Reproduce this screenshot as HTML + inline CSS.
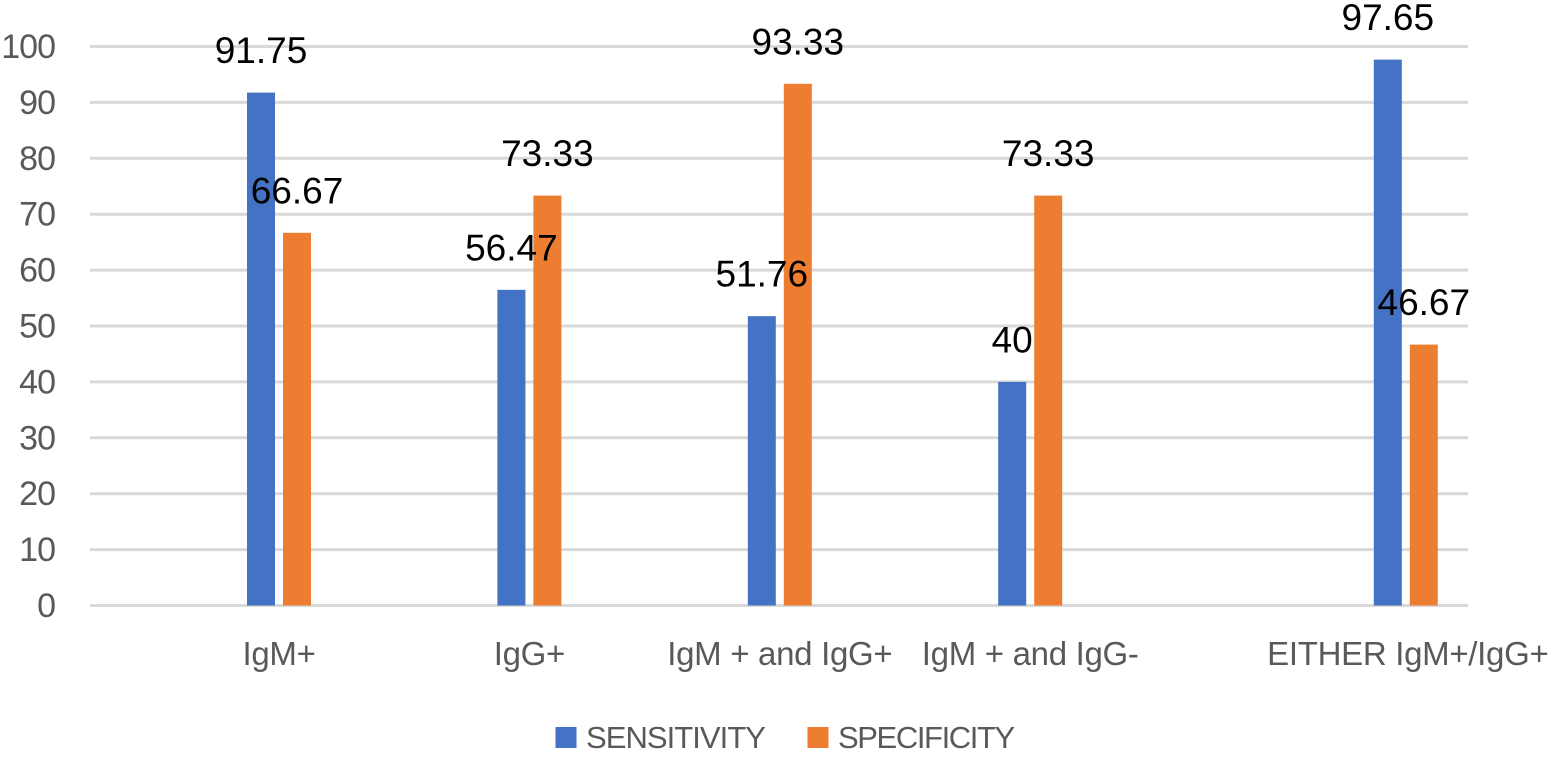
<!DOCTYPE html>
<html lang="en">
<head>
<meta charset="utf-8">
<title>Sensitivity and specificity chart</title>
<style>
html,body{margin:0;padding:0;background:#fff;width:1552px;height:760px;overflow:hidden}
svg{display:block;font-family:"Liberation Sans",sans-serif}
</style>
</head>
<body>
<svg id="chart" width="1552" height="760" viewBox="0 0 1552 760" xmlns="http://www.w3.org/2000/svg"></svg>
<script>
const categories = ['IgM+', 'IgG+', 'IgM + and IgG+', 'IgM + and IgG-', 'EITHER IgM+/IgG+'];
const categorySlots = [0, 1, 2, 3, 4.5];
const sensitivity = [91.75, 56.47, 51.76, 40, 97.65];
const specificity = [66.67, 73.33, 93.33, 73.33, 46.67];
const sensitivityLabels = ['91.75', '56.47', '51.76', '40', '97.65'];
const specificityLabels = ['66.67', '73.33', '93.33', '73.33', '46.67'];
const yTicks = [0, 10, 20, 30, 40, 50, 60, 70, 80, 90, 100];

const NS = 'http://www.w3.org/2000/svg';
const svg = document.getElementById('chart');
const BLUE = '#4472c4', ORANGE = '#ed7d31', GRID = '#d9d9d9', GREY = '#595959';
const yAxis = v => 605.5 - v * 5.59;
const xAxis = slot => 279 + slot * 250.4;

function add(tag, attrs, text) {
  const el = document.createElementNS(NS, tag);
  for (const k in attrs) el.setAttribute(k, attrs[k]);
  if (text !== undefined) el.textContent = text;
  svg.appendChild(el);
  return el;
}

yTicks.forEach(t => {
  const line = add('line', {x1: 90, x2: 1468, y1: yAxis(t), y2: yAxis(t), stroke: GRID, 'stroke-width': 3});
  
  
  const label = add('text', {x: 55, y: yAxis(t) + 11.5, 'text-anchor': 'end', 'font-size': 34, 'letter-spacing': -1, fill: GREY}, String(t));
  
  
});

categories.forEach((c, i) => {
  const cx = xAxis(categorySlots[i]);
  const label = add('text', {x: cx + (i === 4 ? 2 : 0), y: 665, 'text-anchor': 'middle', 'font-size': 33, 'letter-spacing': -0.3, fill: GREY}, c);
  
  

  const b1 = add('rect', {x: cx - 32, y: yAxis(sensitivity[i]), width: 28, height: yAxis(0) - yAxis(sensitivity[i]), fill: BLUE});
  
  
  const b2 = add('rect', {x: cx + 4, y: yAxis(specificity[i]), width: 28, height: yAxis(0) - yAxis(specificity[i]), fill: ORANGE});
  
  
});

categories.forEach((c, i) => {
  const cx = xAxis(categorySlots[i]);
  const l1 = add('text', {x: cx - 18, y: yAxis(sensitivity[i]) - 29.5, 'text-anchor': 'middle', 'font-size': 37, fill: '#000'}, sensitivityLabels[i]);
  
  
  const l2 = add('text', {x: cx + 18, y: yAxis(specificity[i]) - 29.5, 'text-anchor': 'middle', 'font-size': 37, fill: '#000'}, specificityLabels[i]);
  
  
});

const s1 = add('rect', {x: 555.5, y: 727, width: 21, height: 21, fill: BLUE});


const t1 = add('text', {x: 586, y: 748, 'font-size': 31, 'letter-spacing': -0.95, fill: GREY}, 'SENSITIVITY');


const s2 = add('rect', {x: 807.5, y: 727, width: 21, height: 21, fill: ORANGE});


const t2 = add('text', {x: 838, y: 748, 'font-size': 31, 'letter-spacing': -1.4, fill: GREY}, 'SPECIFICITY');


</script>
</body>
</html>
